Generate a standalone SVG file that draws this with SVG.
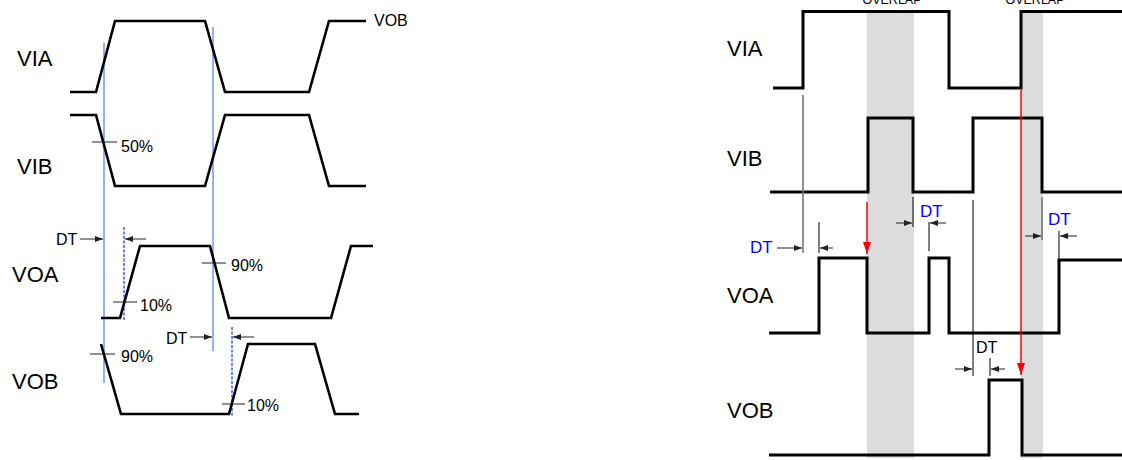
<svg xmlns="http://www.w3.org/2000/svg" width="1122" height="460" viewBox="0 0 1122 460">
<defs>
<marker id="ah" viewBox="0 0 8 6" refX="8" refY="3" markerWidth="8" markerHeight="6" markerUnits="userSpaceOnUse" orient="auto"><path d="M0,0 L8,3 L0,6 Z" fill="#222"/></marker>
<marker id="ahr" viewBox="0 0 12 8" refX="12" refY="4" markerWidth="12" markerHeight="8" markerUnits="userSpaceOnUse" orient="auto"><path d="M0,0 L12,4 L0,8 Z" fill="#ff0000"/></marker>
</defs>
<style>
.w{fill:none;stroke:#000;stroke-width:2.6;stroke-linejoin:miter}
.wr{fill:none;stroke:#000;stroke-width:3}
.lbl{font-family:"Liberation Sans",Arial,sans-serif;font-size:22px;fill:#000}
.t{font-family:"Liberation Sans",Arial,sans-serif;font-size:16px;fill:#000}
.tb{font-family:"Liberation Sans",Arial,sans-serif;font-size:17px;fill:#0000ff}
.ov{font-family:"Liberation Sans",Arial,sans-serif;font-size:12.5px;fill:#000}
.bl{stroke:#5b88f5;stroke-width:1.3;fill:none}
.bd{stroke:#2a55f0;stroke-width:1.4;stroke-dasharray:3 1.5;fill:none}
.tick{stroke:#222;stroke-width:1;fill:none}
.ar{stroke:#222;stroke-width:1;fill:none;marker-end:url(#ah)}
.k{stroke:#000;stroke-width:1;fill:none}
.g{stroke:#777;stroke-width:1.6;fill:none}
.red{stroke:#ff0000;stroke-width:1.5;fill:none}
.band{fill:#dcdcdc}
</style>
<g id="left-diagram">
<g id="left-labels">
<text class="lbl" x="17" y="66">VIA</text>
<text class="lbl" x="17" y="174">VIB</text>
<text class="lbl" x="12" y="282">VOA</text>
<text class="lbl" x="12" y="389">VOB</text>
<text class="t" x="374" y="26">VOB</text>
</g>
<g id="left-guides">
<line class="bl" x1="104" y1="43" x2="104" y2="383"/>
<line class="bl" x1="213" y1="27" x2="213" y2="351"/>
<line class="bd" x1="124" y1="227" x2="124" y2="321"/>
<line class="bd" x1="232" y1="327" x2="232" y2="417"/>
</g>
<g id="left-waves">
<path id="l-via" class="w" d="M70,92 L96,92 L115,21 L205,21 L225,92 L309,92 L329,21 L366,21"/>
<path id="l-vib" class="w" d="M70,115 L96,115 L115,186 L205,186 L225,115 L309,115 L329,186 L366,186"/>
<path id="l-voa" class="w" d="M101,318 L120,318 L140,246 L210,246 L229,318 L331,318 L351,246 L373,246"/>
<path id="l-vob" class="w" d="M101,344 L121,414 L229,414 L248,344 L315,344 L335,414 L359,414"/>
</g>
<g id="left-ticks">
<line class="tick" x1="92" y1="142" x2="117" y2="142"/>
<text class="t" x="121" y="152">50%</text>
<line class="tick" x1="202" y1="263" x2="226" y2="263"/>
<text class="t" x="231" y="271">90%</text>
<line class="tick" x1="113" y1="302" x2="137" y2="302"/>
<text class="t" x="140" y="311">10%</text>
<line class="tick" x1="90" y1="354" x2="115" y2="354"/>
<text class="t" x="121" y="362">90%</text>
<line class="tick" x1="222" y1="404" x2="245" y2="404"/>
<text class="t" x="247" y="411">10%</text>
</g>
<g id="left-dt">
<text class="t" x="56" y="245">DT</text>
<line class="ar" x1="80" y1="239" x2="103" y2="239"/>
<line class="ar" x1="146" y1="239" x2="125" y2="239"/>
<text class="t" x="166" y="344">DT</text>
<line class="ar" x1="190" y1="337" x2="212" y2="337"/>
<line class="ar" x1="254" y1="337" x2="233" y2="337"/>
</g>
</g>
<g id="right-diagram">
<g id="bands">
<rect class="band" x="867" y="11" width="47" height="447"/>
<rect class="band" x="1021" y="11" width="22" height="447"/>
</g>
<text class="ov" x="892" y="4" text-anchor="middle">OVERLAP</text>
<text class="ov" x="1035" y="4" text-anchor="middle">OVERLAP</text>
<g id="right-labels">
<text class="lbl" x="727" y="56">VIA</text>
<text class="lbl" x="727" y="166">VIB</text>
<text class="lbl" x="727" y="303">VOA</text>
<text class="lbl" x="727" y="418">VOB</text>
</g>
<g id="right-waves">
<path id="r-via" class="wr" d="M773,88 H803 V11.5 H949 V88 H1021 V11.5 H1122"/>
<path id="r-vib" class="wr" d="M770,192 H868 V118 H913 V192 H973 V118 H1042 V192 H1122"/>
<path id="r-voa" class="wr" d="M769,333 H819 V258 H867 V333 H929 V258 H949 V333 H1059 V260 H1122"/>
<path id="r-vob" class="wr" d="M769,455 H989 V380 H1022 V455 H1122"/>
</g>
<g id="connectors">
<line class="g" x1="803" y1="95" x2="803" y2="253"/>
<line class="k" x1="819" y1="222" x2="819" y2="253"/>
<line class="ar" x1="777" y1="248" x2="802" y2="248"/>
<line class="ar" x1="833" y1="248" x2="820" y2="248"/>
<text class="tb" x="750" y="253">DT</text>
<line class="red" x1="867" y1="202" x2="867" y2="254" marker-end="url(#ahr)"/>
<line class="k" x1="913" y1="197" x2="913" y2="227"/>
<line class="ar" x1="896" y1="223" x2="912" y2="223"/>
<line class="k" x1="929" y1="222" x2="929" y2="251"/>
<line class="ar" x1="946" y1="223" x2="930" y2="223"/>
<text class="tb" x="920" y="217">DT</text>
<line class="k" x1="973" y1="200" x2="973" y2="376"/>
<line class="ar" x1="955" y1="369" x2="972" y2="369"/>
<line class="k" x1="990" y1="358" x2="990" y2="376"/>
<line class="ar" x1="1005" y1="369" x2="991" y2="369"/>
<text class="t" x="976" y="353">DT</text>
<line class="red" x1="1021" y1="90" x2="1021" y2="375" marker-end="url(#ahr)"/>
<line class="g" x1="1042" y1="197" x2="1042" y2="240"/>
<line class="ar" x1="1025" y1="236" x2="1041" y2="236"/>
<line class="k" x1="1059" y1="231" x2="1059" y2="260"/>
<line class="ar" x1="1077" y1="236" x2="1060" y2="236"/>
<text class="tb" x="1048" y="225">DT</text>
</g>
</g>
</svg>
